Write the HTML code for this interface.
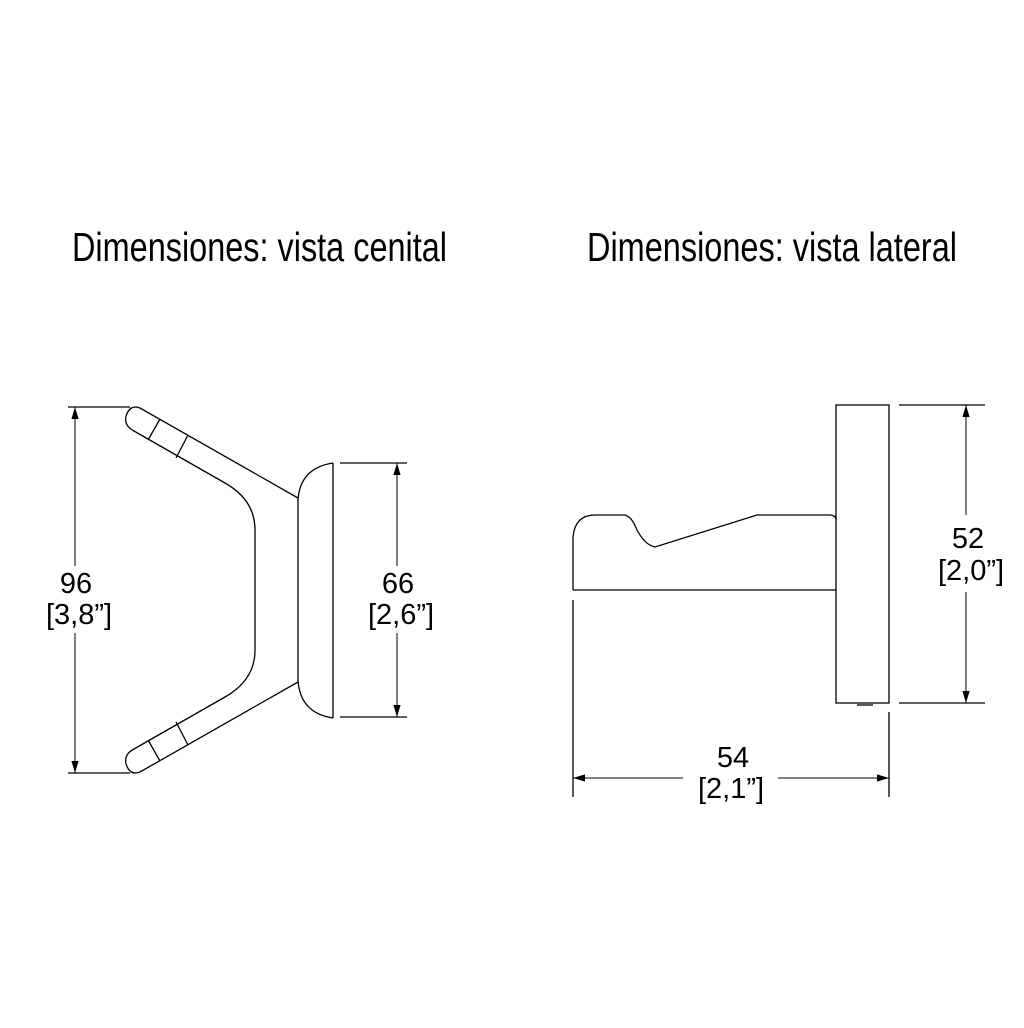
<!DOCTYPE html>
<html><head><meta charset="utf-8"><style>html,body{margin:0;padding:0;background:#fff}svg{display:block}</style></head>
<body>
<svg width="1024" height="1028" viewBox="0 0 1024 1028" xmlns="http://www.w3.org/2000/svg">
<defs>
<marker id="a" viewBox="0 0 10 10" refX="10" refY="5" markerWidth="12" markerHeight="12" markerUnits="userSpaceOnUse" orient="auto-start-reverse"><path d="M0,2 L10,5 L0,8 z" fill="#000"/></marker>
</defs>
<g font-family="Liberation Sans, sans-serif" fill="#000">
<text x="72" y="261" font-size="41" textLength="375" lengthAdjust="spacingAndGlyphs">Dimensiones: vista cenital</text>
<text x="587" y="261" font-size="41" textLength="370" lengthAdjust="spacingAndGlyphs">Dimensiones: vista lateral</text>
<g font-size="29" text-anchor="middle">
<text x="76" y="593">96</text><text x="79" y="624">[3,8”]</text>
<text x="398" y="593">66</text><text x="401" y="624">[2,6”]</text>
<text x="968" y="548">52</text><text x="971" y="580">[2,0”]</text>
<text x="733" y="767">54</text><text x="731" y="798">[2,1”]</text>
</g>
</g>
<g fill="none" stroke="#000" stroke-width="1.3">
<!-- top view -->
<path d="M298,498 L140,408 Q130,404 126,416 Q124,426 134,431 L225,483 Q255,500 255,530 L255,650 Q255,680 225,697 L134,749 Q124,754 126,764 Q130,776 140,772 L298,682"/>
<path d="M160,419 L148,440 M188,435 L176,458 M160,761 L148,740 M188,745 L176,722"/>
<path d="M333,463 L333,718 M333,463 Q300,468 298,500 L298,680 Q300,713 333,718"/>
<!-- left dims -->
<path d="M68,407 H130 M68,773 H130 M340,463 H407 M340,717 H407"/>
<path d="M75,566 V407" marker-end="url(#a)" stroke-width="1"/>
<path d="M75,633 V773" marker-end="url(#a)" stroke-width="1"/>
<path d="M397,566 V463" marker-end="url(#a)" stroke-width="1"/>
<path d="M397,633 V717" marker-end="url(#a)" stroke-width="1"/>
<!-- side view -->
<rect x="836" y="405" width="53" height="298"/>
<path d="M857,705 H873"/>
<path d="M573,590 L573,537 Q575,515 595,515 L625,515 Q632,517 637,530 Q645,545 655,547 L757,515 L831,515 Q836,516 836,520"/>
<path d="M573,590 H836"/>
<path d="M573,600 V797 M889,712 V797 M899,405 H985 M899,703 H985"/>
<path d="M683,778 H573" marker-end="url(#a)" stroke-width="1"/>
<path d="M778,778 H889" marker-end="url(#a)" stroke-width="1"/>
<path d="M966,515 V405" marker-end="url(#a)" stroke-width="1"/>
<path d="M966,592 V703" marker-end="url(#a)" stroke-width="1"/>
</g>
</svg>
</body></html>
